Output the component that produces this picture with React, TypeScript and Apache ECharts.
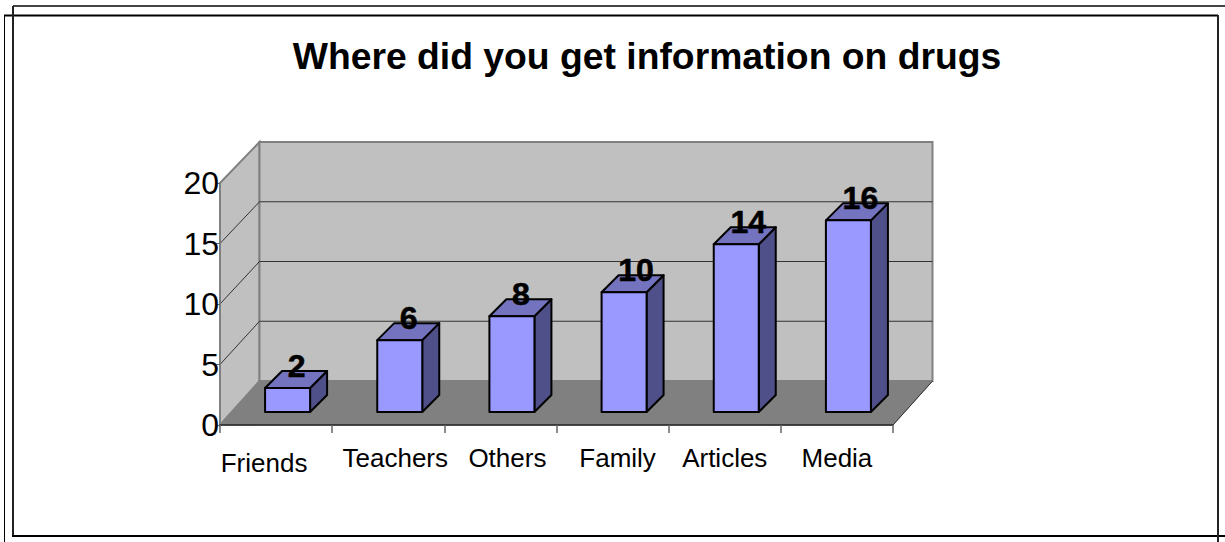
import React, { useEffect, useRef } from "react";
import * as echarts from "echarts";

const categories = ["Friends", "Teachers", "Others", "Family", "Articles", "Media"];
const values = [2, 6, 8, 10, 14, 16];
const yTicks = [0, 5, 10, 15, 20];
const titleText = "Where did you get information on drugs";

const FONT = '"Liberation Sans", Arial, sans-serif';
const wallDx = 39.5;
const wallDyTop = -41;
const wallDyBottom = -44;
const barW = 45;
const barDx = 17;
const barDy = -17;
const barScale = 0.99;
const floorDx = 11.5;
const floorDy = -13;

const labelPad: Record<string, number[]> = {
  Friends: [5, 24, 0, 0],
  Teachers: [0, 0, 0, 14],
  Others: [0, 0, 0, 14],
  Family: [0, 0, 0, 10],
  Articles: [0, 0, 0, 0],
  Media: [0, 0, 0, 0],
};

const frameLines = [
  { p: [13, 6, 1225, 6], w: 2, c: "#444" },
  { p: [4, 15.5, 1218, 15.5], w: 2, c: "#000" },
  { p: [13, 6, 13, 537], w: 2, c: "#222" },
  { p: [4.5, 15, 4.5, 542], w: 1, c: "#000" },
  { p: [12, 536, 1225, 536], w: 2, c: "#000" },
  { p: [1218, 15, 1218, 542], w: 2, c: "#222" },
];

export default function App() {
  const ref = useRef<HTMLDivElement>(null);
  useEffect(() => {
    document.body.style.margin = "0";
    document.body.style.overflow = "hidden";
    const chart = echarts.init(ref.current!, undefined, { renderer: "svg" });

    const renderWalls = (params: any, api: any) => {
      const c = params.coordSys;
      const x0 = c.x, x1 = c.x + c.width, yb = c.y + c.height, yt = c.y;
      const backY = (y: number) => {
        const f = (y - yt) / (yb - yt);
        return yt + wallDyTop + f * (yb + wallDyBottom - yt - wallDyTop);
      };
      const bx0 = x0 + wallDx, bx1 = x1 + wallDx;
      const edge = { stroke: "#808080", lineWidth: 2 };
      const children: any[] = [
        { type: "polygon", shape: { points: [[x0, yt], [bx0, backY(yt)], [bx0, backY(yb)], [x0, yb]] }, style: { fill: "#c0c0c0", ...edge } },
        { type: "polygon", shape: { points: [[bx0, backY(yt)], [bx1, backY(yt)], [bx1, backY(yb)], [bx0, backY(yb)]] }, style: { fill: "#c0c0c0", ...edge } },
        { type: "polygon", shape: { points: [[x0, yb], [bx0, backY(yb)], [bx1, backY(yb)], [x1, yb]] }, style: { fill: "#808080", stroke: "#808080", lineWidth: 1 } },
        { type: "line", shape: { x1: x1, y1: yb, x2: bx1, y2: backY(yb) }, style: { stroke: "#333", lineWidth: 1 } },
      ];
      yTicks.slice(1, -1).forEach((t) => {
        const y = api.coord([0, t])[1];
        children.push({
          type: "polyline",
          shape: { points: [[x0, y], [bx0, backY(y)], [bx1, backY(y)]] },
          style: { fill: "none", stroke: "#333", lineWidth: 1 },
        });
      });
      return { type: "group", children };
    };

    const renderBar = (_p: any, api: any) => {
      const val = api.value(1);
      const top = api.coord([api.value(0), val]);
      const base = api.coord([api.value(0), 0]);
      const l = top[0] - barW / 2 + floorDx;
      const r = l + barW;
      const b = base[1] + floorDy;
      const t = b - (base[1] - top[1]) * barScale;
      const stroke = { stroke: "#000", lineWidth: 2, lineJoin: "round" };
      return {
        type: "group",
        children: [
          { type: "polygon", shape: { points: [[r, t], [r + barDx, t + barDy], [r + barDx, b + barDy], [r, b]] }, style: { fill: "#4f4f8a", ...stroke } },
          { type: "polygon", shape: { points: [[l, t], [l + barDx, t + barDy], [r + barDx, t + barDy], [r, t]] }, style: { fill: "#7373bf", ...stroke } },
          { type: "rect", shape: { x: l, y: t, width: barW, height: b - t }, style: { fill: "#9999ff", ...stroke } },
          {
            type: "text", x: top[0] + floorDx + (val < 10 ? 9 : 12), y: t - 22,
            style: { text: String(val), fill: "#000", stroke: "#000", lineWidth: 0.6, font: `bold 32px ${FONT}`, textAlign: "center", textVerticalAlign: "middle" },
          },
        ],
      };
    };

    chart.setOption({
      animation: false,
      backgroundColor: "#fff",
      title: {
        text: titleText, left: 642, top: 32, textAlign: "center",
        textStyle: { fontFamily: FONT, fontSize: 37.3, fontWeight: "bold", color: "#000" },
      },
      grid: { left: 220, top: 183, width: 673, height: 242 },
      xAxis: {
        type: "category", data: categories, z: 5,
        axisLine: { lineStyle: { color: "#222", width: 1.5 } },
        axisTick: { show: true, length: 8, lineStyle: { color: "#666", width: 1.5 } },
        splitLine: { show: false },
        axisLabel: {
          interval: 0, margin: 20, color: "#000",
          fontFamily: FONT, fontSize: 26,
          formatter: (v: string) => `{${v}|${v}}`,
          rich: Object.fromEntries(categories.map((c) => [c, { fontFamily: FONT, fontSize: 26, color: "#000", padding: labelPad[c] }])),
        },
      },
      yAxis: {
        type: "value", min: 0, max: 20, interval: 5, z: 5,
        axisLine: { show: true, lineStyle: { color: "#808080", width: 1.5 } },
        axisTick: { show: true, length: 4, lineStyle: { color: "#666" } },
        splitLine: { show: false },
        axisLabel: { color: "#000", fontFamily: FONT, fontSize: 32, margin: 1, padding: [0, 0, 8, 0] },
      },
      series: [
        { type: "custom", name: "walls", z: 1, silent: true, data: [[0, 0]], renderItem: renderWalls, clip: false },
        { type: "custom", name: "Count", z: 2, silent: true, data: values.map((v, i) => [i, v]), encode: { x: 0, y: 1 }, renderItem: renderBar, clip: false },
      ],
      graphic: frameLines.map(({ p, w, c }) => ({
        type: "line", z: 10, shape: { x1: p[0], y1: p[1], x2: p[2], y2: p[3] },
        style: { stroke: c, lineWidth: w },
      })),
    });
    return () => chart.dispose();
  }, []);
  return <div ref={ref} style={{ position: "fixed", left: 0, top: 0, width: 1225, height: 542 }} />;
}
